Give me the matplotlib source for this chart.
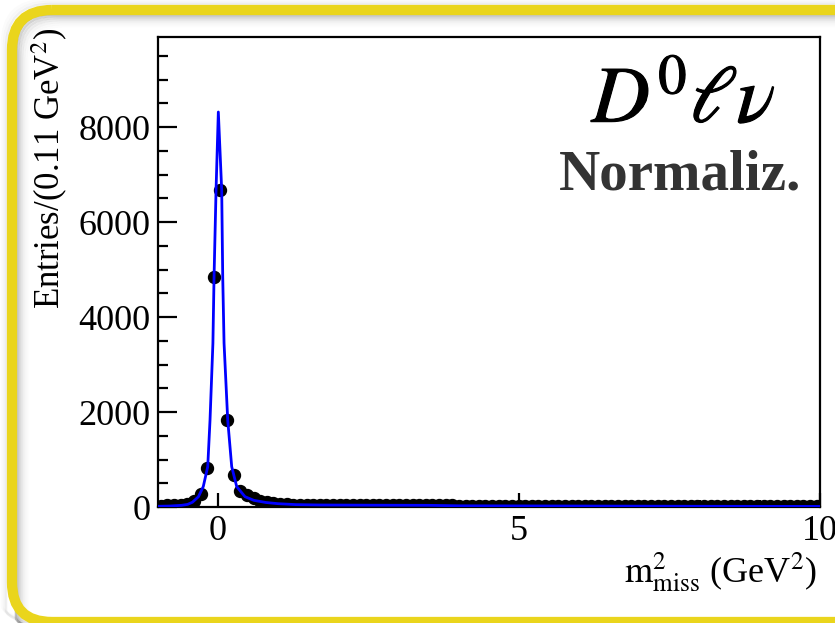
import numpy as np
import matplotlib
matplotlib.use("Agg")
import matplotlib.pyplot as plt
import matplotlib.patheffects as pe
from matplotlib.patches import FancyBboxPatch

plt.rcParams['font.family'] = ['Liberation Serif', 'DejaVu Serif']
plt.rcParams['mathtext.fontset'] = 'stix'

# ---------------- data ----------------
bin_lo, bin_hi, n_bins = -1.0, 10.0, 100
counts = [30, 32, 35, 42, 65, 120, 274, 828, 4849, 6674,
          1832, 674, 340, 250, 185, 135, 100, 80, 68, 58,
          52, 47, 44, 42, 41, 40, 40, 39, 39, 38,
          38, 37, 37, 37, 36, 36, 35, 35, 35, 34,
          34, 33, 33, 32, 32, 31, 31, 31, 30, 30,
          30, 29, 29, 29, 28, 28, 28, 27, 27, 27,
          27, 26, 26, 26, 26, 25, 25, 25, 25, 24,
          24, 24, 24, 23, 23, 23, 23, 23, 22, 22,
          22, 22, 22, 21, 21, 21, 21, 21, 20, 20,
          20, 20, 20, 19, 19, 19, 19, 19, 18, 18]

curve_x = [-1.0, -0.8, -0.6, -0.5, -0.42, -0.32, -0.24, -0.166, -0.128, -0.08,
           -0.061, -0.028, 0.01, 0.066, 0.083, 0.105, 0.166, 0.232, 0.315, 0.453,
           0.6, 0.8, 1.0, 1.3, 1.7, 2.5, 3.5, 4.0, 6.0, 8.0, 10.0]
curve_y = [15, 20, 35, 55, 100, 217, 430, 850, 1830, 3450,
           4850, 6670, 8320, 6670, 4850, 3450, 1830, 850, 430, 217,
           140, 95, 70, 50, 42, 38, 35, 25, 20, 15, 12]

y_major = [0, 2000, 4000, 6000, 8000]
x_major = [0, 5, 10]

# ---------------- figure ----------------
W, H = 835, 623
fig = plt.figure(figsize=(W / 100, H / 100), dpi=100, facecolor='white')

# background frame axes in pixel coords
bg = fig.add_axes([0, 0, 1, 1])
bg.set_xlim(0, W)
bg.set_ylim(H, 0)
bg.axis('off')
# inner shadow
for k, a in enumerate([0.45, 0.32, 0.22, 0.14, 0.08, 0.04, 0.02]):
    p = FancyBboxPatch((12 + k * 2 + 4, 10 + k * 2 + 4), 870, 640,
                       boxstyle="round,pad=0,rounding_size=36",
                       fc='none', ec=(0.45, 0.45, 0.45, a), lw=1.8)
    bg.add_patch(p)
# outer shadow
for k, a in enumerate([0.12, 0.06, 0.03]):
    p = FancyBboxPatch((12 - 6 - k * 2, 10 - 6 - k * 2), 880, 650,
                       boxstyle="round,pad=0,rounding_size=44",
                       fc='none', ec=(0.5, 0.5, 0.5, a), lw=1.8)
    bg.add_patch(p)
frame = FancyBboxPatch((12, 10), 870, 612,
                       boxstyle="round,pad=0,rounding_size=40",
                       fc='none', ec='#EAD51C', lw=7.4)
bg.add_patch(frame)

# main axes
L, R, B, T = 157.5, 820, 507, 37
ax = fig.add_axes([L / W, 1 - B / H, (R - L) / W, (B - T) / H])
ax.set_xlim(bin_lo, bin_hi)
ax.set_ylim(0, 9900)

width = (bin_hi - bin_lo) / n_bins
centers = bin_lo + width * (np.arange(n_bins) + 0.5)
ax.plot(centers, counts, 'o', color='black', ms=8.6, zorder=3)
ax.plot(curve_x, curve_y, '-', color='#0000ff', lw=2.0, zorder=4)

ax.set_yticks(y_major)
ax.set_yticks(np.arange(0, 9901, 500), minor=True)
ax.set_xticks(x_major)
ax.set_xticks(np.arange(0, 11, 1), minor=True)
ax.tick_params(axis='both', which='both', direction='in', width=1.6,
               labelsize=26, top=False, right=False)
ax.tick_params(axis='y', which='major', length=13.7, pad=5)
ax.tick_params(axis='y', which='minor', length=7.0)
ax.tick_params(axis='x', which='major', length=10, pad=6)
ax.tick_params(axis='x', which='minor', length=5)
for s in ax.spines.values():
    s.set_linewidth(1.6)

# labels
fig.text(50 / W, 1 - 28 / H, r'Entries/(0.11 GeV$^{2}$)', rotation=90,
         ha='center', va='top', fontsize=25)
fig.text(817 / W, 1 - 582 / H, r'$\mathrm{m}^{2}_{\mathrm{miss}}$ (GeV$^{2}$)',
         ha='right', va='baseline', fontsize=26)

fig.text(684 / W, 1 - 122 / H, r'$D^{0}\ell\nu$', ha='center',
         va='baseline', fontsize=58,
         path_effects=[pe.withStroke(linewidth=0.8, foreground='black')])
fig.text(801 / W, 1 - 190 / H, 'Normaliz.', ha='right', va='baseline',
         fontsize=41, fontweight='bold', color='#333333')

fig.savefig('out.png', dpi=100, facecolor='white')
